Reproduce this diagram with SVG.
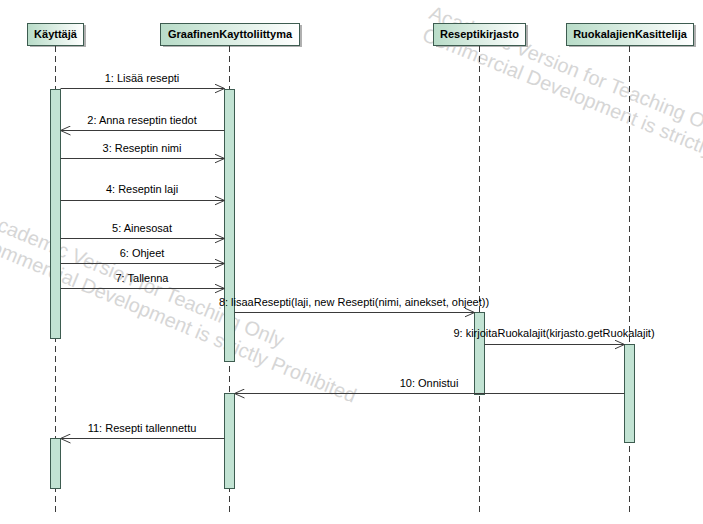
<svg xmlns="http://www.w3.org/2000/svg" width="703" height="524" viewBox="0 0 703 524">
<defs>
<linearGradient id="hdr" x1="0" y1="0" x2="1" y2="0">
<stop offset="0" stop-color="#b8dcc8"/>
<stop offset="1" stop-color="#ffffff"/>
</linearGradient>
<marker id="open" viewBox="0 0 10 10" refX="10" refY="5" markerWidth="10" markerHeight="10" markerUnits="userSpaceOnUse" orient="auto">
<path d="M0,0.5 L10,5 L0,9.5" fill="none" stroke="#3a3a3a" stroke-width="1"/>
</marker>
</defs>
<style>
.wm{font-family:"Liberation Sans",Arial,sans-serif;font-size:20px;fill:#d6d6d6}
.hbox{fill:url(#hdr);stroke:#3d5c50;stroke-width:1}
.shadow{fill:#b0b0b0}
.htxt{font-family:"Liberation Sans",Arial,sans-serif;font-size:11px;font-weight:bold;fill:#000;text-anchor:middle}
.life{stroke:#3a3a3a;stroke-width:1;stroke-dasharray:6,4;fill:none}
.act{fill:#c2e3d3;stroke:#3d5c50;stroke-width:1}
.msg{stroke:#3a3a3a;stroke-width:1;fill:none;marker-end:url(#open)}
.lbl{font-family:"Liberation Sans",Arial,sans-serif;font-size:11px;fill:#000;text-anchor:middle}
</style>
<rect width="703" height="524" fill="#ffffff"/>
<g id="watermark">
<text class="wm" transform="translate(-16,225) rotate(22.5)">Academic Version for Teaching Only</text>
<text class="wm" transform="translate(-24,247) rotate(22.5)">Commercial Development is strictly Prohibited</text>
<text class="wm" transform="translate(428,18) rotate(22)">Academic Version for Teaching Only</text>
<text class="wm" transform="translate(421,40) rotate(22)">Commercial Development is strictly Prohibited</text>
</g>
<g id="kayttaja">
<rect class="shadow" x="30" y="25" width="56" height="22"/>
<rect class="hbox" x="27.5" y="23.5" width="56" height="22"/>
<text class="htxt" x="55.5" y="38">Käyttäjä</text>
<line class="life" x1="55.5" y1="46" x2="55.5" y2="512"/>
<rect class="act" x="50.5" y="89.5" width="10" height="249"/>
<rect class="act" x="50.5" y="438.5" width="10" height="50"/>
</g>
<g id="graafinen">
<rect class="shadow" x="163" y="25" width="139" height="22"/>
<rect class="hbox" x="160.5" y="23.5" width="139" height="22"/>
<text class="htxt" x="230" y="38">GraafinenKayttoliittyma</text>
<line class="life" x1="229.5" y1="46" x2="229.5" y2="512"/>
<rect class="act" x="224.5" y="89.5" width="10" height="272"/>
<rect class="act" x="224.5" y="393.5" width="10" height="95"/>
</g>
<g id="reseptikirjasto">
<rect class="shadow" x="436" y="25" width="92" height="22"/>
<rect class="hbox" x="433.5" y="23.5" width="92" height="22"/>
<text class="htxt" x="479.5" y="38">Reseptikirjasto</text>
<line class="life" x1="479.5" y1="46" x2="479.5" y2="512"/>
<rect class="act" x="474.5" y="312.5" width="10" height="82"/>
</g>
<g id="ruokalajien">
<rect class="shadow" x="569" y="25" width="127" height="22"/>
<rect class="hbox" x="566.5" y="23.5" width="127" height="22"/>
<text class="htxt" x="630" y="38">RuokalajienKasittelija</text>
<line class="life" x1="629.5" y1="46" x2="629.5" y2="512"/>
<rect class="act" x="624.5" y="344.5" width="10" height="98"/>
</g>
<g id="connectors">
<line class="msg" x1="60.5" y1="88.5" x2="224.5" y2="88.5"/>
<text class="lbl" x="142" y="82">1: Lisää resepti</text>
<line class="msg" x1="224.5" y1="130.5" x2="60.5" y2="130.5"/>
<text class="lbl" x="142" y="124">2: Anna reseptin tiedot</text>
<line class="msg" x1="60.5" y1="158.5" x2="224.5" y2="158.5"/>
<text class="lbl" x="142" y="152">3: Reseptin nimi</text>
<line class="msg" x1="60.5" y1="200.5" x2="224.5" y2="200.5"/>
<text class="lbl" x="142" y="193">4: Reseptin laji</text>
<line class="msg" x1="60.5" y1="238.5" x2="224.5" y2="238.5"/>
<text class="lbl" x="142" y="232">5: Ainesosat</text>
<line class="msg" x1="60.5" y1="263.5" x2="224.5" y2="263.5"/>
<text class="lbl" x="142" y="257">6: Ohjeet</text>
<line class="msg" x1="60.5" y1="288.5" x2="224.5" y2="288.5"/>
<text class="lbl" x="142" y="282">7: Tallenna</text>
<line class="msg" x1="234.5" y1="312.5" x2="474.5" y2="312.5"/>
<text class="lbl" x="354" y="306">8: lisaaResepti(laji, new Resepti(nimi, ainekset, ohjeet))</text>
<line class="msg" x1="484.5" y1="344.5" x2="624.5" y2="344.5"/>
<text class="lbl" x="554" y="337">9: kirjoitaRuokalajit(kirjasto.getRuokalajit)</text>
<line class="msg" x1="624.5" y1="393.5" x2="234.5" y2="393.5"/>
<text class="lbl" x="429" y="387">10: Onnistui</text>
<line class="msg" x1="224.5" y1="438.5" x2="60.5" y2="438.5"/>
<text class="lbl" x="142" y="432">11: Resepti tallennettu</text>
</g>
</svg>
